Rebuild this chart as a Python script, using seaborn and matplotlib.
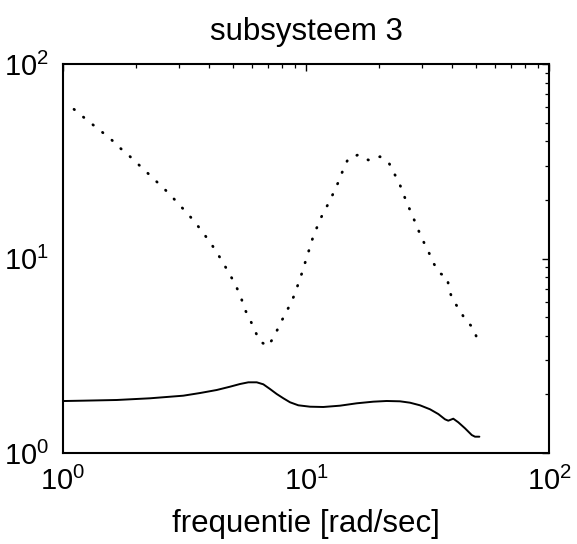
import numpy as np
import pandas as pd
import matplotlib
matplotlib.use("Agg")
import matplotlib.pyplot as plt
import seaborn as sns

# ---- data (log-log) ----
freq_dotted = [1.11, 1.212, 1.328, 1.451, 1.586, 1.717, 1.874, 2.035, 2.216, 2.407,
               2.612, 2.836, 3.059, 3.30, 3.56, 3.815, 4.09, 4.345, 4.612, 4.881,
               5.152, 5.40, 5.572, 5.865, 6.15, 6.436, 6.977, 7.42, 7.78, 8.20,
               8.65, 9.03, 9.36, 9.72, 10.03, 10.39, 10.74, 11.24, 11.75, 12.44,
               13.04, 13.65, 14.24, 14.93, 16.32, 18.05, 20.16, 22.02, 23.17, 24.37,
               25.38, 26.54, 27.75, 28.98, 30.31, 31.87, 33.41, 35.37, 38.15, 38.77,
               40.15, 42.74, 45.24, 48.81, 50.7]
mag_dotted = [58.5, 53.4, 48.7, 44.6, 40.7, 37.0, 33.7, 30.6, 27.7, 25.1,
              22.8, 20.5, 18.5, 16.7, 14.9, 13.3, 11.8, 10.5, 9.26, 8.20,
              7.22, 6.32, 5.55, 4.89, 4.29, 3.76, 3.54, 4.00, 4.55, 5.17,
              5.87, 6.65, 7.63, 8.73, 10.0, 11.46, 13.16, 15.01, 17.10, 19.41,
              22.05, 25.03, 28.75, 32.67, 34.05, 32.10, 33.38, 30.72, 27.10, 23.87,
              20.88, 18.24, 16.02, 14.02, 12.35, 10.89, 9.51, 8.42, 8.01, 6.94,
              6.12, 5.48, 4.84, 4.39, 3.84]

freq_solid = [1.0, 1.212, 1.663, 2.280, 3.126, 3.663, 4.29, 4.866, 5.35, 5.79,
              6.27, 6.675, 7.11, 7.575, 8.07, 8.595, 9.297, 10.39, 11.78, 13.8,
              16.17, 18.92, 21.48, 24.37, 26.79, 29.45, 32.38, 35.03, 37.33, 38.51,
              40.38, 42.34, 45.1, 48.1, 49.6, 51.7]
mag_solid = [1.85, 1.858, 1.873, 1.911, 1.971, 2.034, 2.108, 2.192, 2.263, 2.309,
             2.309, 2.255, 2.133, 2.011, 1.911, 1.823, 1.759, 1.730, 1.724, 1.751,
             1.801, 1.836, 1.851, 1.844, 1.814, 1.759, 1.678, 1.586, 1.490, 1.466,
             1.501, 1.438, 1.34, 1.237, 1.213, 1.213]

title_text = "subsysteem 3"
xlabel_text = "frequentie [rad/sec]"

df_dot = pd.DataFrame({"freq": freq_dotted, "mag": mag_dotted})
df_sol = pd.DataFrame({"freq": freq_solid, "mag": mag_solid})

sns.set_theme(style="white")
plt.rcParams["font.family"] = ["Liberation Sans", "DejaVu Sans"]
plt.rcParams["mathtext.fontset"] = "custom"
plt.rcParams["mathtext.rm"] = "Liberation Sans"
plt.rcParams["mathtext.it"] = "Liberation Sans:italic"
plt.rcParams["mathtext.bf"] = "Liberation Sans:bold"
plt.rcParams["text.color"] = "black"
plt.rcParams["axes.labelcolor"] = "black"
plt.rcParams["xtick.color"] = "black"
plt.rcParams["ytick.color"] = "black"

fig = plt.figure(figsize=(5.77, 5.44), dpi=100)
ax = fig.add_axes([63 / 577, 1 - 453 / 544, (549 - 63) / 577, (453 - 64) / 544])

sns.lineplot(data=df_dot, x="freq", y="mag", ax=ax, color="black",
             linewidth=2.0, linestyle=(0, (0.2, 4.2)), dash_capstyle="round",
             estimator=None, sort=False)
sns.lineplot(data=df_sol, x="freq", y="mag", ax=ax, color="black",
             linewidth=1.4, estimator=None, sort=False)

ax.set_xscale("log")
ax.set_yscale("log")
ax.set_xlim(1, 100)
ax.set_ylim(1, 100)

ax.set_title(title_text, fontsize=22.5, pad=17, color="black")
ax.set_xlabel(xlabel_text, fontsize=22.5, labelpad=9, color="black")
ax.set_ylabel("")

for s in ax.spines.values():
    s.set_linewidth(1.5)
    s.set_color("black")

ax.tick_params(which="both", direction="in", top=True, right=True,
               colors="black", labelcolor="black")
ax.tick_params(which="major", length=5, width=1.0, labelsize=21, pad=10)
ax.tick_params(which="minor", length=3, width=0.9)
ax.grid(False)

fig.savefig("out.png", dpi=100, facecolor="white")
